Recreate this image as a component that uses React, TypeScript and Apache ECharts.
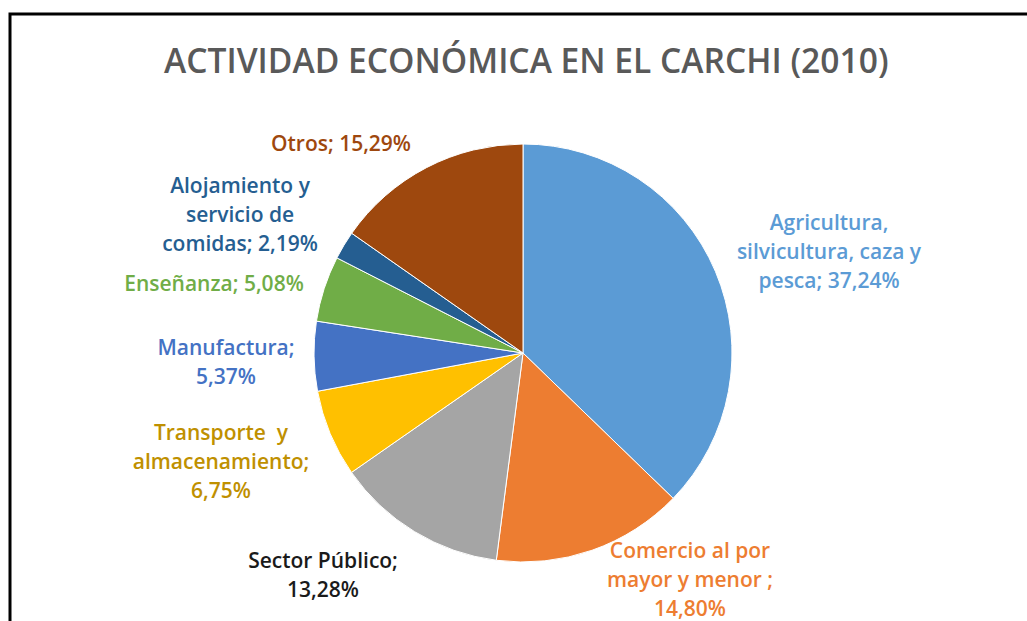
import React, { useEffect, useRef } from "react";
import * as echarts from "echarts";

const TITLE = "ACTIVIDAD ECONÓMICA EN EL CARCHI (2010)";

const categories = [
  "Agricultura,\nsilvicultura, caza y\npesca",
  "Comercio al por\nmayor y menor ",
  "Sector Público",
  "Transporte  y\nalmacenamiento",
  "Manufactura",
  "Enseñanza",
  "Alojamiento y\nservicio de\ncomidas",
  "Otros",
];

const values = [37.24, 14.8, 13.28, 6.75, 5.37, 5.08, 2.19, 15.29];

// whether the value goes on its own line
const valueOnNewLine = [false, true, true, true, true, false, false, false];

const sliceColors = ["#5B9BD5", "#ED7D31", "#A5A5A5", "#FFC000", "#4472C4", "#70AD47", "#255E91", "#9E480E"];
const labelColors = ["#5B9BD5", "#ED7D31", "#1a1a1a", "#BF9000", "#4472C4", "#70AD47", "#255E91", "#9E480E"];

// label centre positions (layout)
const labelCenters: [number, number][] = [
  [829, 251],
  [690, 579],
  [323, 574],
  [221, 461],
  [226, 361],
  [214, 283],
  [240, 214],
  [341, 143],
];

const fmt = (v: number) => v.toFixed(2).replace(".", ",") + "%";

function labelText(i: number) {
  return categories[i] + (valueOnNewLine[i] ? ";\n" : "; ") + fmt(values[i]);
}

export default function App() {
  const ref = useRef<HTMLDivElement>(null);
  useEffect(() => {
    document.body.style.margin = "0";
    const chart = echarts.init(ref.current!, null, { renderer: "svg" });
    const FONT = "'Open Sans', 'Noto Sans', sans-serif";
    chart.setOption({
      animation: false,
      backgroundColor: "#ffffff",
      title: {
        text: TITLE,
        left: 159,
        top: 38,
        textStyle: { fontFamily: FONT, fontSize: 33.6, fontWeight: 600, color: "#595959" },
      },
      graphic: [
        {
          type: "rect",
          shape: { x: 10, y: 14, width: 1040, height: 640 },
          style: { fill: "none", stroke: "#000", lineWidth: 3 },
          z: 100,
        },
      ],
      series: [
        {
          type: "pie",
          center: [523, 353],
          radius: 209,
          startAngle: 90,
          clockwise: true,
          itemStyle: { borderColor: "#ffffff", borderWidth: 1 },
          labelLine: { show: false },
          label: {
            show: true,
            position: "outside",
            fontFamily: FONT,
            fontSize: 21,
            fontWeight: 600,
            lineHeight: 29,
            align: "center",
            formatter: (p: any) => labelText(p.dataIndex),
          },
          labelLayout: (p: any) => {
            const c = labelCenters[p.dataIndex];
            return { x: c[0], y: c[1], align: "center", verticalAlign: "middle" };
          },
          data: categories.map((n, i) => ({
            name: n,
            value: values[i],
            itemStyle: { color: sliceColors[i] },
            label: { color: labelColors[i] },
          })),
        },
      ],
    });
    return () => chart.dispose();
  }, []);
  return <div ref={ref} style={{ position: "fixed", left: 0, top: 0, width: 1027, height: 621 }} />;
}
